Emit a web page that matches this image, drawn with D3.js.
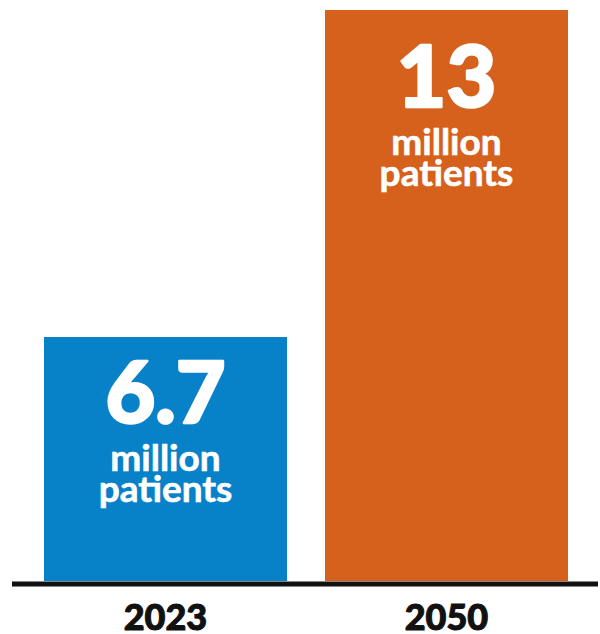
<!DOCTYPE html>
<html>
<head>
<meta charset="utf-8">
<script src="https://cdn.jsdelivr.net/npm/d3@7"></script>
<style>
  body { margin: 0; background: #fff; }
  text { font-family: "Lato", "Inter", sans-serif; }
</style>
</head>
<body>
<div id="chart"></div>
<script>
var years = ["2023", "2050"];
var patients = [6.7, 13];
var numberLabels = ["6.7", "13"];
var unitLines = ["million", "patients"];
var colors = ["#0781c8", "#d6611d"];

var width = 600, height = 634;

var svg = d3.select("#chart").append("svg")
    .attr("width", width)
    .attr("height", height);

// bars sit on a baseline that is not zero in the original
var x = d3.scaleBand()
    .domain(years)
    .range([15.9, 596.1])
    .paddingInner(0.1352)
    .paddingOuter(0.1);

var y = d3.scaleLinear()
    .domain([2, 13])
    .range([581, 10]);

var bars = svg.selectAll("g.bar")
    .data(patients)
    .enter().append("g")
    .attr("class", "bar");

bars.append("rect")
    .attr("x", function (d, i) { return x(years[i]); })
    .attr("y", function (d) { return y(d); })
    .attr("width", x.bandwidth())
    .attr("height", function (d) { return y(2) - y(d); })
    .attr("fill", function (d, i) { return colors[i]; });

function numBase(d, i) { return y(d) + (i === 0 ? 86 : 97); }

// big number
bars.append("text")
    .attr("x", function (d, i) { return x(years[i]) + x.bandwidth() / 2; })
    .attr("y", numBase)
    .attr("text-anchor", "middle")
    .attr("fill", "#fff")
    .attr("stroke", "#fff")
    .attr("stroke-width", 2.5)
    .attr("stroke-linejoin", "round")
    .style("font-size", "86px")
    .style("font-weight", 900)
    .text(function (d, i) { return numberLabels[i]; });

unitLines.forEach(function (line, k) {
    bars.append("text")
        .attr("x", function (d, i) { return x(years[i]) + x.bandwidth() / 2; })
        .attr("y", function (d, i) { return numBase(d, i) + 48 + k * 31; })
        .attr("text-anchor", "middle")
        .attr("fill", "#fff")
        .attr("stroke", "#fff")
        .attr("stroke-width", 0.6)
        .style("font-size", "37px")
        .style("font-weight", 700)
        .text(line);
});

// baseline
svg.append("line")
    .attr("x1", 12)
    .attr("x2", 598)
    .attr("y1", y(2) + 3)
    .attr("y2", y(2) + 3)
    .attr("stroke", "#111")
    .attr("stroke-width", 5);

svg.selectAll("text.year")
    .data(years)
    .enter().append("text")
    .attr("class", "year")
    .attr("x", function (d) { return x(d) + x.bandwidth() / 2; })
    .attr("y", 630)
    .attr("text-anchor", "middle")
    .attr("fill", "#111")
    .attr("stroke", "#111")
    .attr("stroke-width", 1)
    .style("font-size", "36px")
    .style("font-weight", 900)
    .text(function (d) { return d; });
</script>
</body>
</html>
